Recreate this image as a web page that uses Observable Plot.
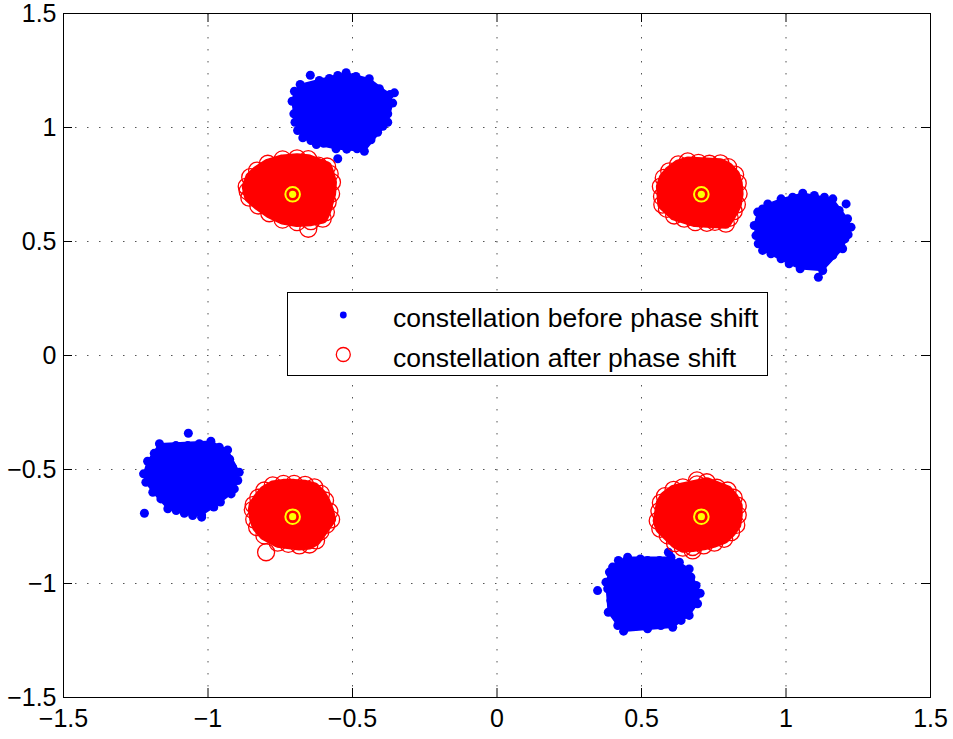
<!DOCTYPE html>
<html><head><meta charset="utf-8">
<script src="https://cdn.jsdelivr.net/npm/d3@7"></script>
<script src="https://cdn.jsdelivr.net/npm/@observablehq/plot@0.6"></script>
<style>
body{margin:0;background:#fff;}
#wrap{position:relative;width:953px;height:739px;}
#legend{position:absolute;left:287px;top:292px;}
</style></head>
<body><div id="wrap"></div>
<script>
// Axis ticks
const xTicks = [-1.5, -1, -0.5, 0, 0.5, 1, 1.5];
const yTicks = [-1.5, -1, -0.5, 0, 0.5, 1, 1.5];
const gridTicks = [-1, -0.5, 0, 0.5, 1];

// Constellation before phase shift (blue) – outline of each cloud
const blueTL = [[-0.681,1.189],[-0.701,1.159],[-0.709,1.115],[-0.703,1.060],[-0.699,1.023],[-0.690,0.987],[-0.672,0.955],[-0.644,0.943],[-0.600,0.931],[-0.557,0.907],[-0.520,0.905],[-0.484,0.907],[-0.459,0.896],[-0.436,0.946],[-0.413,0.979],[-0.378,1.023],[-0.378,1.060],[-0.361,1.107],[-0.370,1.145],[-0.388,1.143],[-0.407,1.170],[-0.442,1.214],[-0.488,1.224],[-0.522,1.240],[-0.551,1.228],[-0.615,1.206],[-0.644,1.177],[-0.580,1.215],[-0.665,1.000],[-0.395,1.005],[-0.625,0.925]];
const blueTR = [[0.902,0.629],[0.890,0.570],[0.896,0.526],[0.904,0.490],[0.919,0.461],[0.948,0.446],[0.983,0.424],[1.011,0.402],[1.049,0.380],[1.075,0.405],[1.127,0.373],[1.133,0.409],[1.162,0.439],[1.196,0.468],[1.204,0.512],[1.225,0.563],[1.213,0.600],[1.184,0.636],[1.162,0.687],[1.133,0.694],[1.098,0.702],[1.058,0.712],[1.023,0.694],[0.983,0.687],[0.937,0.665],[0.919,0.643],[1.100,0.395],[1.215,0.530]];
const blueBL = [[-1.168,-0.387],[-1.186,-0.429],[-1.209,-0.464],[-1.223,-0.519],[-1.215,-0.556],[-1.191,-0.600],[-1.163,-0.629],[-1.139,-0.672],[-1.082,-0.692],[-1.053,-0.702],[-1.022,-0.700],[-0.980,-0.665],[-0.957,-0.643],[-0.920,-0.607],[-0.909,-0.585],[-0.897,-0.548],[-0.892,-0.512],[-0.915,-0.490],[-0.932,-0.414],[-0.961,-0.402],[-0.990,-0.376],[-1.030,-0.387],[-1.070,-0.395],[-1.111,-0.395],[-1.110,-0.680],[-0.925,-0.455]];
const blueBR = [[0.562,-0.899],[0.521,-0.899],[0.496,-0.892],[0.452,-0.885],[0.420,-0.899],[0.400,-0.928],[0.389,-0.950],[0.377,-0.994],[0.383,-1.023],[0.394,-1.075],[0.385,-1.126],[0.418,-1.148],[0.418,-1.184],[0.438,-1.209],[0.475,-1.184],[0.521,-1.199],[0.567,-1.184],[0.608,-1.192],[0.637,-1.162],[0.665,-1.140],[0.694,-1.089],[0.703,-1.043],[0.689,-1.009],[0.671,-0.972],[0.665,-0.936],[0.631,-0.907],[0.602,-0.885]];
const blueStray = [[-0.646,1.229],[-0.551,0.863],[-0.355,1.152],[1.112,0.343],[1.208,0.665],[-1.068,-0.341],[-1.220,-0.692],[-1.022,-0.709],[0.348,-1.031],[0.593,-0.863]];

// Constellation after phase shift (red) – outline of each cloud
const redTL = [[-0.866,0.741],[-0.854,0.782],[-0.830,0.811],[-0.793,0.841],[-0.742,0.860],[-0.692,0.865],[-0.653,0.861],[-0.618,0.833],[-0.588,0.829],[-0.579,0.797],[-0.571,0.760],[-0.574,0.709],[-0.586,0.672],[-0.592,0.629],[-0.603,0.600],[-0.644,0.589],[-0.692,0.585],[-0.742,0.596],[-0.788,0.624],[-0.826,0.658],[-0.857,0.692],[-0.863,0.721]];
const redTR = [[0.567,0.741],[0.571,0.697],[0.577,0.779],[0.596,0.808],[0.627,0.838],[0.660,0.851],[0.697,0.845],[0.735,0.841],[0.773,0.843],[0.800,0.826],[0.824,0.793],[0.833,0.756],[0.836,0.709],[0.830,0.662],[0.819,0.633],[0.805,0.604],[0.792,0.578],[0.754,0.586],[0.726,0.582],[0.686,0.585],[0.648,0.600],[0.613,0.614],[0.588,0.643],[0.572,0.662]];
const redBL = [[-0.845,-0.677],[-0.840,-0.719],[-0.830,-0.753],[-0.805,-0.789],[-0.759,-0.821],[-0.722,-0.826],[-0.684,-0.833],[-0.649,-0.829],[-0.626,-0.811],[-0.611,-0.772],[-0.591,-0.743],[-0.574,-0.719],[-0.580,-0.684],[-0.595,-0.636],[-0.609,-0.607],[-0.632,-0.578],[-0.664,-0.567],[-0.702,-0.563],[-0.739,-0.563],[-0.776,-0.570],[-0.805,-0.592],[-0.826,-0.624],[-0.842,-0.655]];
const redBR = [[0.556,-0.725],[0.562,-0.683],[0.567,-0.646],[0.581,-0.617],[0.611,-0.589],[0.643,-0.578],[0.692,-0.565],[0.726,-0.556],[0.761,-0.580],[0.798,-0.592],[0.819,-0.624],[0.833,-0.659],[0.833,-0.700],[0.828,-0.743],[0.810,-0.775],[0.786,-0.804],[0.752,-0.821],[0.715,-0.833],[0.677,-0.840],[0.643,-0.843],[0.616,-0.823],[0.591,-0.789],[0.565,-0.760]];
const redStray = [[-0.799,-0.863],[-0.653,0.556],[0.692,-0.548],[0.677,-0.855]];

// Ideal QPSK points (yellow)
const idealPoints = [[0.7071,0.7071],[-0.7071,0.7071],[-0.7071,-0.7071],[0.7071,-0.7071]];

const tag = (arr, c) => arr.map(([x, y]) => ({x, y, c}));
const blueBody = [...tag(blueTL,"TL"), ...tag(blueTR,"TR"), ...tag(blueBL,"BL"), ...tag(blueBR,"BR")];
const blueAll = [...blueBody, ...tag(blueStray,"S")];
const redBody = [...tag(redTL,"TL"), ...tag(redTR,"TR"), ...tag(redBL,"BL"), ...tag(redBR,"BR")];
const redAll = [...redBody, ...tag(redStray,"S")];
const ideal = tag(idealPoints, "I");

const W = 953, H = 739, mL = 63, mR = 23, mT = 13, mB = 42;
const innerH = H - mT - mB, innerW = W - mL - mR, tickLen = 9;
const font = "'Liberation Sans', Arial, Helvetica, sans-serif";
const fmt = d => (d < 0 ? "\u2212" : "") + String(Math.abs(d));

const chart = Plot.plot({
  width: W, height: H,
  marginLeft: mL, marginRight: mR, marginTop: mT, marginBottom: mB,
  style: {fontFamily: font, fontSize: "25px", color: "black", background: "white", overflow: "visible"},
  x: {domain: [-1.5, 1.5], axis: null},
  y: {domain: [-1.5, 1.5], axis: null},
  marks: [
    Plot.gridX(gridTicks, {stroke: "#555", strokeOpacity: 1, strokeWidth: 1, strokeDasharray: "1.5,10.5"}),
    Plot.gridY(gridTicks, {stroke: "#555", strokeOpacity: 1, strokeWidth: 1, strokeDasharray: "1.5,10.5"}),
    // inward ticks on all four sides
    Plot.tickX(xTicks, {x: d => d, stroke: "black", insetTop: innerH - tickLen}),
    Plot.tickX(xTicks, {x: d => d, stroke: "black", insetBottom: innerH - tickLen}),
    Plot.tickY(yTicks, {y: d => d, stroke: "black", insetRight: innerW - tickLen}),
    Plot.tickY(yTicks, {y: d => d, stroke: "black", insetLeft: innerW - tickLen}),
    Plot.axisX(xTicks, {tickSize: 0, tickPadding: 12, fontSize: 25, fill: "black", label: null, tickFormat: fmt}),
    Plot.axisY(yTicks, {tickSize: 0, tickPadding: 7, fontSize: 25, fill: "black", label: null, tickFormat: fmt}),
    // before phase shift
    Plot.hull(blueBody, {x: "x", y: "y", z: "c", fill: "#0000ff", stroke: "#0000ff", strokeWidth: 1.5, strokeLinejoin: "round"}),
    Plot.dot(blueAll, {x: "x", y: "y", r: 4.5, fill: "#0000ff", stroke: "none"}),
    // after phase shift
    Plot.hull(redBody, {x: "x", y: "y", z: "c", fill: "#ff0000", stroke: "#ff0000", strokeWidth: 10, strokeLinejoin: "round"}),
    Plot.dot(redAll, {x: "x", y: "y", r: 8.5, fill: "none", stroke: "#ff0000", strokeWidth: 1.3}),
    // ideal points
    Plot.dot(ideal, {x: "x", y: "y", r: 7.3, fill: "none", stroke: "#ffff00", strokeWidth: 2}),
    Plot.dot(ideal, {x: "x", y: "y", r: 3.6, fill: "#ffff00", stroke: "none"}),
    Plot.frame({stroke: "black", strokeWidth: 1})
  ]
});

const wrap = document.getElementById("wrap");
wrap.appendChild(chart);

// Legend inside the axes
const legendLabels = ["constellation before phase shift", "constellation after phase shift"];
const lg = d3.select(wrap).append("svg").attr("id", "legend")
  .attr("width", 482).attr("height", 85);
lg.append("rect").attr("x", 0.5).attr("y", 0.5).attr("width", 480).attr("height", 83)
  .attr("fill", "white").attr("stroke", "black").attr("stroke-width", 1);
lg.append("circle").attr("cx", 56.3).attr("cy", 23).attr("r", 3.4).attr("fill", "#0000ff");
lg.append("circle").attr("cx", 56.3).attr("cy", 62.5).attr("r", 7).attr("fill", "none").attr("stroke", "#ff0000").attr("stroke-width", 1.3);
lg.selectAll("text.l").data(legendLabels).join("text")
  .attr("x", 106).attr("y", (d, i) => i === 0 ? 35 : 74.5)
  .attr("font-family", font).attr("font-size", 26.5).attr("fill", "black")
  .text(d => d);
</script>
</body></html>
